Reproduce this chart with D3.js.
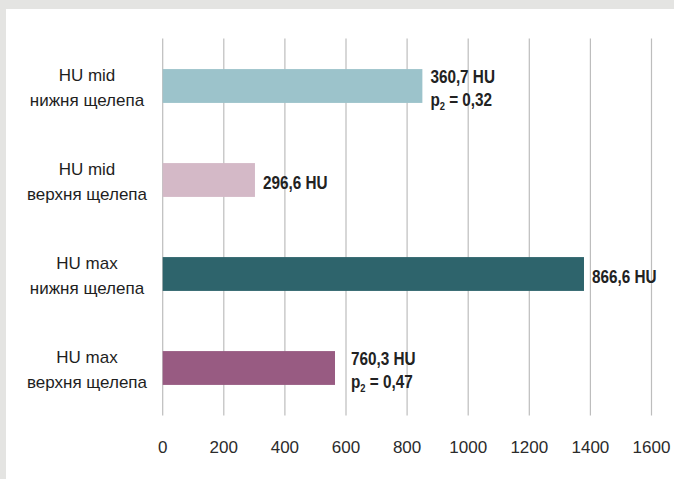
<!DOCTYPE html>
<html>
<head>
<meta charset="utf-8">
<script src="https://cdn.jsdelivr.net/npm/d3@7/dist/d3.min.js"></script>
<style>
  html, body { margin: 0; padding: 0; background: #e4e4e2; }
  svg { display: block; }
</style>
</head>
<body>
<script>
// Data
const categoryTop = ["HU mid", "HU mid", "HU max", "HU max"];
const categoryBottom = ["нижня щелепа", "верхня щелепа", "нижня щелепа", "верхня щелепа"];
const barValues = [850, 302, 1379, 564];
const valueLabels = ["360,7 HU", "296,6 HU", "866,6 HU", "760,3 HU"];
const pLabels = ["0,32", null, null, "0,47"];
const barColors = ["#9cc3cb", "#d4b9c7", "#2e646c", "#985b82"];
const tickValues = [0, 200, 400, 600, 800, 1000, 1200, 1400, 1600];

const W = 674, H = 479;
const svg = d3.select("body").append("svg").attr("width", W).attr("height", H);

// panel
svg.append("rect").attr("x", 0).attr("y", 0).attr("width", W).attr("height", H).attr("fill", "#e4e4e2");
svg.append("rect").attr("x", 6).attr("y", 9).attr("width", W - 6).attr("height", H - 9).attr("fill", "#ffffff");

const x = d3.scaleLinear().domain([0, 1600]).range([162.7, 651.5]);
const idx = d3.range(barValues.length);
const y = d3.scaleBand().domain(idx).range([39, 415]).paddingInner(0.64).paddingOuter(0.32);

// gridlines
svg.append("g").selectAll("line").data(tickValues).join("line")
  .attr("x1", d => x(d)).attr("x2", d => x(d))
  .attr("y1", 38.5).attr("y2", 415.5)
  .attr("stroke", "#bdbdbd").attr("stroke-width", 1.2);

// tick labels
svg.append("g").selectAll("text").data(tickValues).join("text")
  .attr("x", d => x(d)).attr("y", 452.5)
  .attr("text-anchor", "middle")
  .attr("font-family", "Liberation Sans, Arial, sans-serif")
  .attr("font-size", 17).attr("fill", "#2b2b2b")
  .text(d => d);

// bars
svg.append("g").selectAll("rect").data(idx).join("rect")
  .attr("x", x(0)).attr("y", i => y(i))
  .attr("width", i => x(barValues[i]) - x(0))
  .attr("height", y.bandwidth())
  .attr("fill", i => barColors[i]);

// category labels
const cat = svg.append("g").selectAll("text").data(idx).join("text")
  .attr("text-anchor", "middle")
  .attr("font-family", "Liberation Sans, Arial, sans-serif")
  .attr("font-size", 17).attr("fill", "#1e1e1e");
cat.append("tspan").attr("x", 87).attr("y", i => y(i) + y.bandwidth() / 2 - 5).text(i => categoryTop[i]);
cat.append("tspan").attr("x", 87).attr("y", i => y(i) + y.bandwidth() / 2 + 20).text(i => categoryBottom[i]);

// value labels (condensed bold)
const lbl = svg.append("g").selectAll("text").data(idx).join("text")
  .attr("font-family", "Liberation Sans, Arial, sans-serif")
  .attr("font-weight", "bold")
  .attr("font-size", 18).attr("fill", "#222")
  .attr("transform", i => {
    const bx = x(barValues[i]) + (i === 3 ? 16 : 8);
    const cy = y(i) + y.bandwidth() / 2;
    return `translate(${bx},${cy}) scale(0.85,1)`;
  });
lbl.each(function(i) {
  const t = d3.select(this);
  if (pLabels[i]) {
    t.append("tspan").attr("x", 0).attr("y", -3).text(valueLabels[i]);
    t.append("tspan").attr("x", 0).attr("y", 20).text("p");
    t.append("tspan").attr("dy", 4).attr("font-size", 11).text("2");
    t.append("tspan").attr("dy", -4).text(" = " + pLabels[i]);
  } else {
    t.append("tspan").attr("x", 0).attr("y", 9).text(valueLabels[i]);
  }
});
</script>
</body>
</html>
